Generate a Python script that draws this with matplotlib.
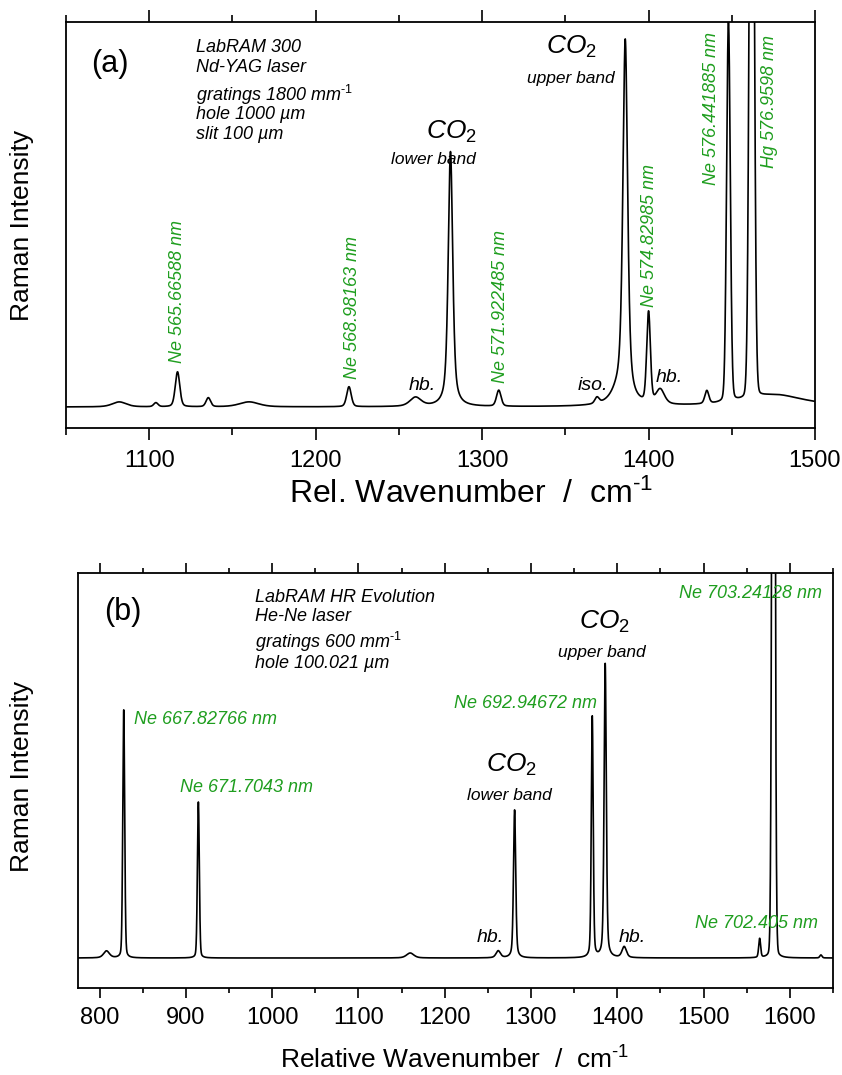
import numpy as np
import matplotlib
matplotlib.use("Agg")
import matplotlib.pyplot as plt
from matplotlib.ticker import MultipleLocator

plt.rcParams['font.family'] = ['Liberation Sans', 'DejaVu Sans']
plt.rcParams['mathtext.fontset'] = 'custom'
plt.rcParams['mathtext.rm'] = 'Liberation Sans'
plt.rcParams['mathtext.it'] = 'Liberation Sans:italic'

green = '#1f9e1f'

# panel (a): peak centre (cm-1), height (a.u.), half width (cm-1), lorentz share
a_center = [1082, 1104, 1117, 1135.5, 1160, 1220, 1260, 1281, 1310, 1369, 1381, 1386, 1400, 1407, 1435, 1448, 1462, 1476]
a_height = [5, 4, 35, 9, 5, 20, 9, 255, 16, 6, 10, 362, 90, 15, 13, 380, 900, 12]
a_width = [5, 1.5, 1.6, 1.6, 7, 1.6, 4, 1.6, 1.6, 1.5, 5, 1.7, 1.3, 3, 1.4, 1.3, 1.5, 22]
a_mix = [0.5, 0.3, 0.3, 0.3, 0.5, 0.3, 0.5, 0.6, 0.3, 0.3, 1.0, 0.6, 0.2, 0.5, 0.3, 0.1, 0.05, 1.0]

# panel (b)
b_center = [808, 828, 914.5, 1160, 1262, 1281, 1371, 1386, 1408, 1565, 1581, 1636]
b_height = [7, 248, 156, 5, 7, 148, 241, 294, 11, 19, 1200, 3]
b_width = [4, 1.3, 1.3, 5, 3, 1.5, 1.3, 1.5, 3, 1.3, 1.8, 1.5]
b_mix = [0.5, 0.2, 0.2, 0.5, 0.5, 0.4, 0.3, 0.4, 0.5, 0.3, 0.05, 0.3]

a_info = ['LabRAM 300', 'Nd-YAG laser', r'gratings 1800 mm$^{\text{-1}}$', 'hole 1000 µm', 'slit 100 µm']
b_info = ['LabRAM HR Evolution', 'He-Ne laser', r'gratings 600 mm$^{\text{-1}}$', 'hole 100.021 µm']


def spectrum(x, centers, heights, widths, mix):
    y = np.zeros_like(x)
    for c, h, w, m in zip(centers, heights, widths, mix):
        d = (x - c) / w
        y += h * ((1 - m) * np.exp(-np.log(2) * d ** 2) + m / (1 + d ** 2))
    return y


def style_axes(ax, major_len, minor_len):
    ax.set_yticks([])
    ax.xaxis.set_major_locator(MultipleLocator(100))
    ax.xaxis.set_minor_locator(MultipleLocator(50))
    ax.tick_params(axis='x', which='both', direction='out', top=True, labeltop=False,
                   labelsize=17, pad=7, width=1.2)
    ax.tick_params(axis='x', which='major', length=major_len)
    ax.tick_params(axis='x', which='minor', length=minor_len)
    for s in ax.spines.values():
        s.set_linewidth(1.3)


fig = plt.figure(figsize=(8.42, 10.75), dpi=100)

# ---------------- (a)
ax1 = fig.add_axes([66 / 842, 1 - 428 / 1075, 749 / 842, 406 / 1075])
xa = np.linspace(1050, 1500, 9001)
ax1.plot(xa, spectrum(xa, a_center, a_height, a_width, a_mix), color='black', lw=1.2)
ax1.set_xlim(1050, 1500)
ax1.set_ylim(-21, 385)
style_axes(ax1, 8.5, 5)

ax1.text(0.059, 0.897, '(a)', transform=ax1.transAxes, fontsize=22, ha='center', va='center')
for txt, yy in zip(a_info, [0.936, 0.887, 0.820, 0.771, 0.722]):
    ax1.text(0.174, yy, txt, transform=ax1.transAxes, fontsize=13, style='italic', va='center')

gkw = dict(color=green, fontsize=13, style='italic', rotation=90)
ax1.text(1116.9, 44, 'Ne 565.66588 nm', ha='center', va='bottom', **gkw)
ax1.text(1221.9, 28, 'Ne 568.98163 nm', ha='center', va='bottom', **gkw)
ax1.text(1311.2, 24, 'Ne 571.922485 nm', ha='center', va='bottom', **gkw)
ax1.text(1400.5, 100, 'Ne 574.82985 nm', ha='center', va='bottom', **gkw)
ax1.text(1437.9, 375, 'Ne 576.441885 nm', ha='center', va='top', **gkw)
ax1.text(1472.9, 372, 'Hg 576.9598 nm', ha='center', va='top', **gkw)

ax1.text(1264, 21, 'hb.', fontsize=14, style='italic', ha='center', va='center')
ax1.text(1366.7, 22, 'iso.', fontsize=14, style='italic', ha='center', va='center')
ax1.text(1412.5, 30, 'hb.', fontsize=14, style='italic', ha='center', va='center')
ax1.text(1281.6, 275, r'$\mathit{CO_2}$', fontsize=19, ha='center', va='center')
ax1.text(1270.7, 247, 'lower band', fontsize=12.5, style='italic', ha='center', va='center')
ax1.text(1353.4, 360, r'$\mathit{CO_2}$', fontsize=19, ha='center', va='center')
ax1.text(1353.4, 329, 'upper band', fontsize=12.5, style='italic', ha='center', va='center')

fig.text(22 / 842, 1 - 225 / 1075, 'Raman Intensity', rotation=90, fontsize=19, ha='center', va='center')
fig.text(471 / 842, 1 - 494 / 1075, r'Rel. Wavenumber  /  cm$^{\text{-1}}$', fontsize=23, ha='center', va='center')

# ---------------- (b)
ax2 = fig.add_axes([78 / 842, 1 - 988 / 1075, 755 / 842, 415 / 1075])
xb = np.linspace(775, 1650, 17501)
ax2.plot(xb, spectrum(xb, b_center, b_height, b_width, b_mix), color='black', lw=1.2)
ax2.set_xlim(775, 1650)
ax2.set_ylim(-30, 385)
style_axes(ax2, 7, 3.5)

ax2.text(0.060, 0.906, '(b)', transform=ax2.transAxes, fontsize=22, ha='center', va='center')
for txt, yy in zip(b_info, [0.942, 0.894, 0.834, 0.783]):
    ax2.text(0.234, yy, txt, transform=ax2.transAxes, fontsize=13, style='italic', va='center')

hkw = dict(color=green, fontsize=13, style='italic', va='center')
ax2.text(839.4, 238, 'Ne 667.82766 nm', ha='left', **hkw)
ax2.text(970.4, 171, 'Ne 671.7043 nm', ha='center', **hkw)
ax2.text(1376.2, 255, 'Ne 692.94672 nm', ha='right', **hkw)
ax2.text(1554.8, 365, 'Ne 703.24128 nm', ha='center', **hkw)
ax2.text(1561.7, 35, 'Ne 702.405 nm', ha='center', **hkw)

ax2.text(1385.5, 336, r'$\mathit{CO_2}$', fontsize=19, ha='center', va='center')
ax2.text(1382, 305, 'upper band', fontsize=12.5, style='italic', ha='center', va='center')
ax2.text(1277.7, 193, r'$\mathit{CO_2}$', fontsize=19, ha='center', va='center')
ax2.text(1275.4, 162, 'lower band', fontsize=12.5, style='italic', ha='center', va='center')
ax2.text(1253.3, 20, 'hb.', fontsize=14, style='italic', ha='center', va='center')
ax2.text(1416.8, 21, 'hb.', fontsize=14, style='italic', ha='center', va='center')

fig.text(22 / 842, 1 - 776 / 1075, 'Raman Intensity', rotation=90, fontsize=19, ha='center', va='center')
fig.text(455 / 842, 1 - 1060 / 1075, r'Relative Wavenumber  /  cm$^{\text{-1}}$', fontsize=19, ha='center', va='center')

fig.savefig('out.png', dpi=100)
